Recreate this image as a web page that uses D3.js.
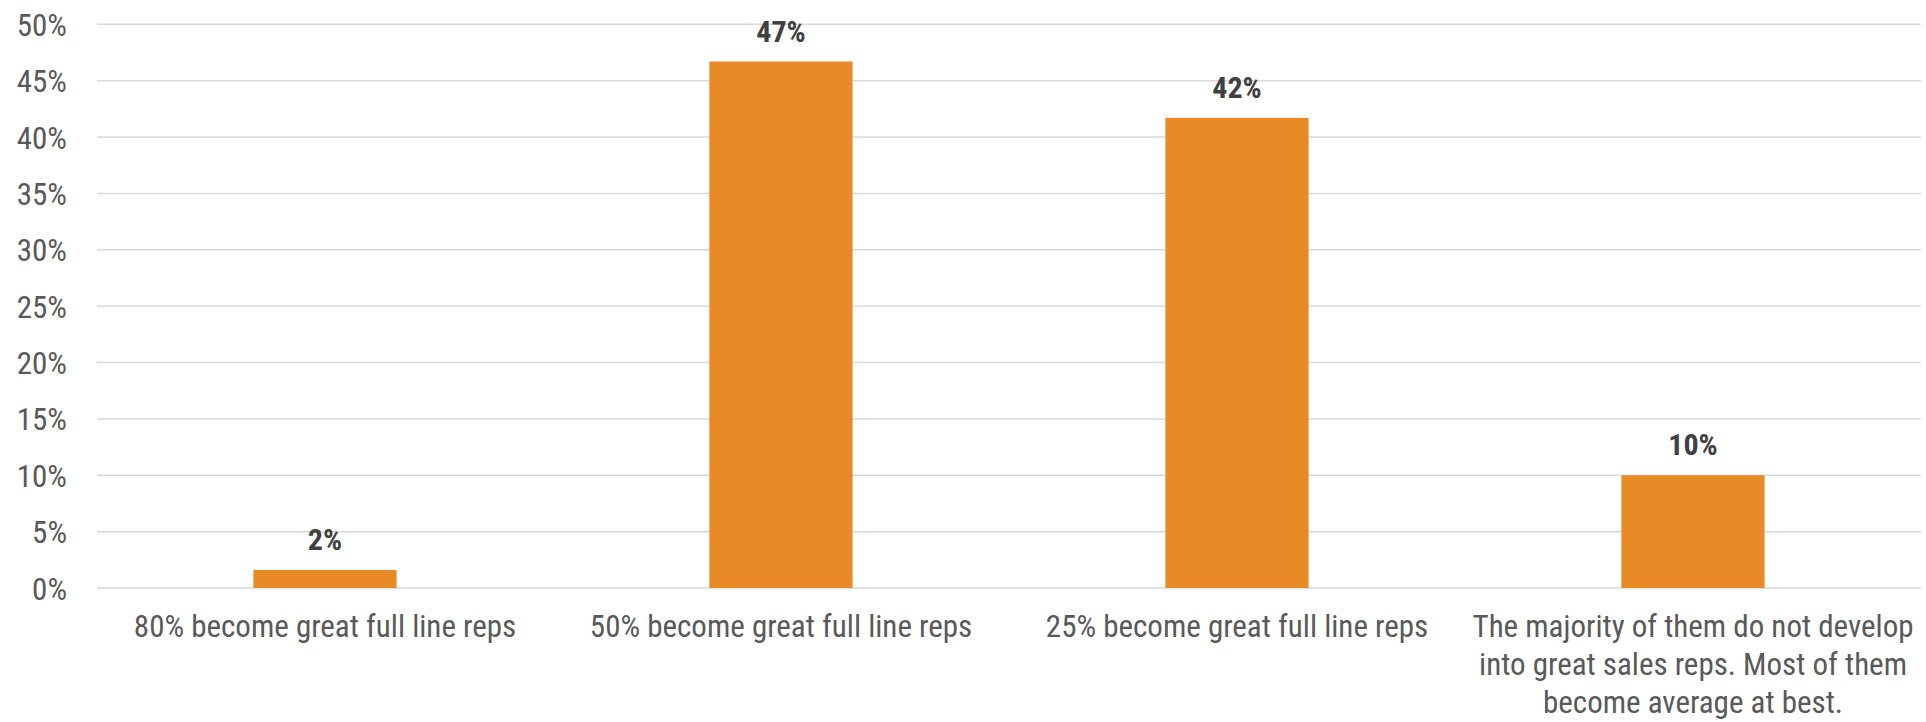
<!DOCTYPE html>
<html>
<head>
<meta charset="utf-8">
<script src="https://cdn.jsdelivr.net/npm/d3@7"></script>
<style>
  html, body { margin: 0; padding: 0; background: #fff; }
  svg { display: block; }
  text { font-family: "Roboto Condensed", Roboto, "Liberation Sans", sans-serif; }
</style>
</head>
<body>
<svg id="chart" width="1926" height="722"></svg>
<script>
const categories = [
  "80% become great full line reps",
  "50% become great full line reps",
  "25% become great full line reps",
  "The majority of them do not develop\ninto great sales reps. Most of them\nbecome average at best."
];
const values = [0.016, 0.467, 0.417, 0.100];
const valueLabels = ["2%", "47%", "42%", "10%"];
const yTicks = [0, 0.05, 0.10, 0.15, 0.20, 0.25, 0.30, 0.35, 0.40, 0.45, 0.50];

const svg = d3.select("#chart");
const W = 1926, H = 722;
const x0 = 97, x1 = W - 5;
const yBottom = 588, yTop = 24.3;

const x = d3.scaleBand().domain(categories).range([x0, x1])
  .paddingInner(0.686).paddingOuter(0.343);
const y = d3.scaleLinear().domain([0, 0.5]).range([yBottom, yTop]);

// gridlines
svg.append("g").selectAll("line").data(yTicks).join("line")
  .attr("x1", x0).attr("x2", x1)
  .attr("y1", d => y(d)).attr("y2", d => y(d))
  .attr("stroke", "#d9d9d9").attr("stroke-width", 1.5);

// y axis labels
const yAxis = d3.axisLeft(y).tickValues(yTicks).tickFormat(d3.format(".0%")).tickSize(0).tickPadding(0);
const yg = svg.append("g").attr("transform", `translate(67,0)`).call(yAxis);
yg.select(".domain").remove();
yg.selectAll("text")
  .attr("x", null).attr("dy", null)
  .attr("fill", "#595959").attr("font-size", 31).attr("font-weight", 400)
  .attr("text-anchor", "end")
  .attr("transform", `translate(0,11)`);

// bars
svg.append("g").selectAll("rect").data(values).join("rect")
  .attr("x", (d, i) => x(categories[i]))
  .attr("width", x.bandwidth())
  .attr("y", d => y(d))
  .attr("height", d => y(0) - y(d))
  .attr("fill", "#e98a27");

// value labels
svg.append("g").selectAll("text").data(values).join("text")
  .attr("x", (d, i) => x(categories[i]) + x.bandwidth() / 2)
  .attr("y", d => y(d) - 20)
  .attr("text-anchor", "middle")
  .attr("font-size", 30).attr("font-weight", 700).attr("fill", "#404040")
  .text((d, i) => valueLabels[i]);

// category labels (multi-line)
const catG = svg.append("g");
categories.forEach((c, i) => {
  const cx = x(c) + x.bandwidth() / 2;
  const t = catG.append("text")
    .attr("text-anchor", "middle")
    .attr("font-size", 31).attr("font-weight", 400).attr("fill", "#595959")
    .attr("transform", `translate(${cx},637)`);
  c.split("\n").forEach((l, k) => {
    t.append("tspan").attr("x", 0).attr("y", k * 38).text(l);
  });
});
</script>
</body>
</html>
